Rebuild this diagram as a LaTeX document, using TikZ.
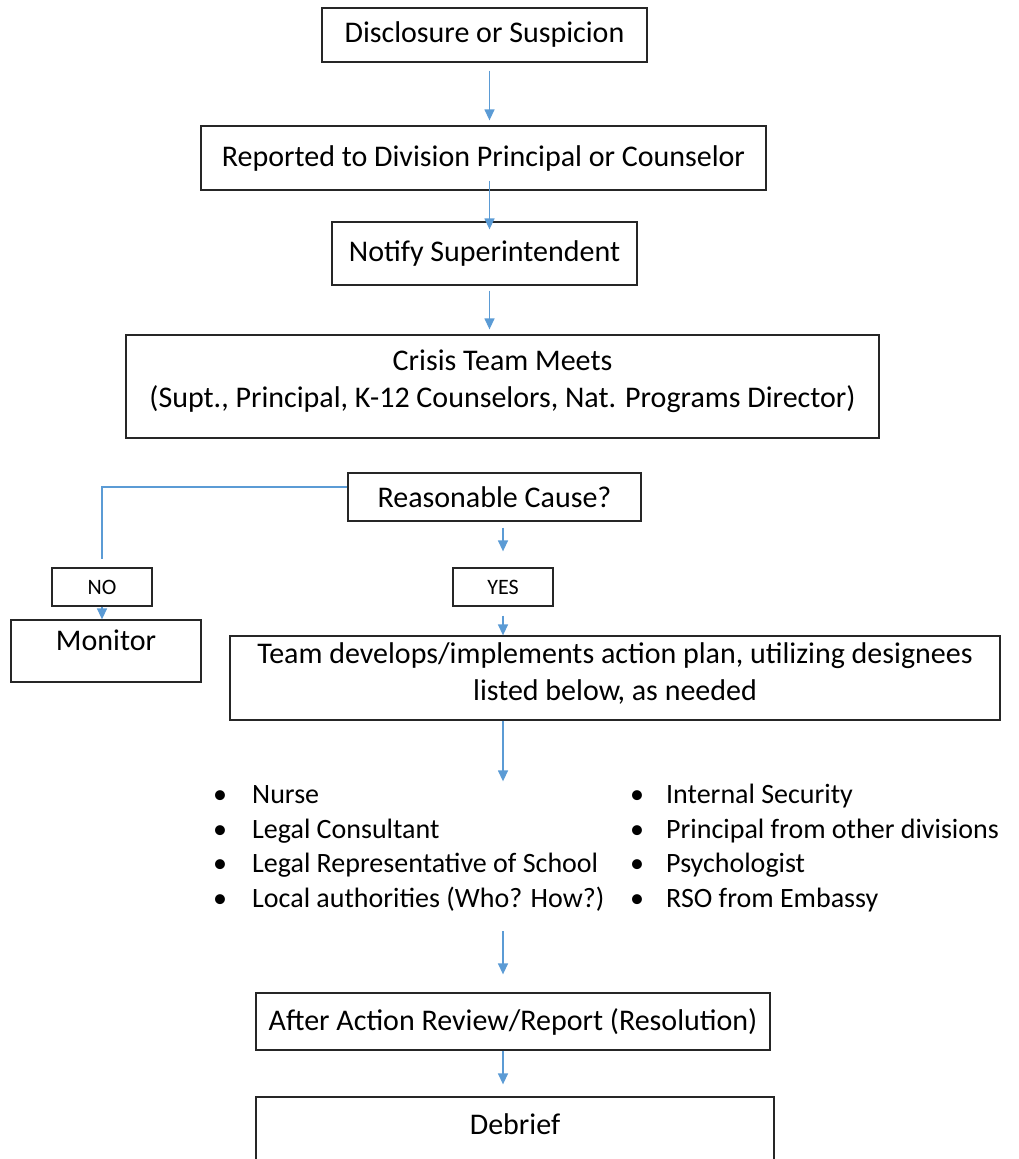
\documentclass[tikz,border=0pt]{standalone}
\usepackage{fontspec}
\setmainfont{Carlito}
\usetikzlibrary{arrows.meta}
\definecolor{flowblue}{RGB}{91,155,213}
\begin{document}
\begin{tikzpicture}[x=1pt,y=-1pt,
	box/.style={draw=black!85, line width=1.3pt, inner sep=0pt, align=center, font=\fontsize{30}{37}\selectfont},
	tag/.style={draw=black!85, line width=1.3pt, inner sep=0pt, font=\fontsize{22}{26}\selectfont},
	list/.style={inner sep=0pt, align=left, font=\fontsize{28}{34.5}\selectfont},
	flow/.style={draw=flowblue, line width=1.4pt, -{Triangle[length=11pt,width=10pt]}},
	link/.style={draw=flowblue, line width=1.4pt}]
	\useasboundingbox (0,0) rectangle (1018,1159);
	
	\node[box, minimum width=325pt, minimum height=54pt] (disclose) at (484.5,35) {Disclosure or Suspicion};
	\node[box, minimum width=565pt, minimum height=64pt] (report) at (483.5,158) {Reported to Division Principal or Counselor};
	\node[box, minimum width=305pt, minimum height=63pt] (notify) at (484.5,253.5) {Notify Superintendent};
	\node[box, minimum width=753pt, minimum height=103pt, text depth=16pt] (crisis) at (502.5,386.5) {Crisis Team Meets\\(Supt., Principal, K-12 Counselors, Nat. Programs Director)};
	\node[box, minimum width=293pt, minimum height=48pt] (cause) at (494.5,497) {Reasonable Cause?};
	\node[tag, minimum width=100pt, minimum height=38pt] (no) at (102,587) {NO};
	\node[tag, minimum width=100pt, minimum height=38pt] (yes) at (503,587) {YES};
	\node[box, minimum width=190pt, minimum height=62pt, text height=20pt, text depth=22pt] (monitor) at (106,651) {Monitor};
	\node[box, minimum width=770pt, minimum height=84pt, text depth=12pt] (plan) at (615,678) {Team develops/implements action plan, utilizing designees\\listed below, as needed};
	
	\node[list, anchor=base west] (leftlist) at (213,907) {\makebox[39pt][l]{\textbullet}Nurse\\
		\makebox[39pt][l]{\textbullet}Legal Consultant\\
		\makebox[39pt][l]{\textbullet}Legal Representative of School\\
		\makebox[39pt][l]{\textbullet}Local authorities (Who? How?)};
	\node[list, anchor=base west] (rightlist) at (630,907) {\makebox[36pt][l]{\textbullet}Internal Security\\
		\makebox[36pt][l]{\textbullet}Principal from other divisions\\
		\makebox[36pt][l]{\textbullet}Psychologist\\
		\makebox[36pt][l]{\textbullet}RSO from Embassy};
	
	\node[box, minimum width=514pt, minimum height=57pt] (review) at (513,1021.5) {After Action Review/Report (Resolution)};
	\node[box, minimum width=518pt, minimum height=76pt, text height=20pt, text depth=22pt] (debrief) at (515,1135) {Debrief};
	
	\draw[flow, shorten <=8pt, shorten >=5pt] ([xshift=5pt]disclose.south) -- ([xshift=5pt]disclose.south |- report.north);
	\draw[flow, shorten <=-10pt, shorten >=-8pt] ([xshift=6pt]report.south) -- ([xshift=6pt]report.south |- notify.north);
	\draw[flow, shorten <=5pt, shorten >=5pt] ([xshift=5pt]notify.south) -- ([xshift=5pt]notify.south |- crisis.north);
	\draw[link] ([yshift=10pt]cause.west) -| ([yshift=8pt]no.north);
	\draw[flow] (no.south) -- (no.south |- monitor.north);
	\draw[flow, shorten <=6pt, shorten >=16pt] (yes.north |- cause.south) -- (yes.north);
	\draw[flow, shorten <=9pt] (yes.south) -- (yes.south |- plan.north);
	\draw[flow, shorten >=4pt] (yes.south |- plan.south) -- (yes.south |- leftlist.north);
	\draw[flow, shorten <=20pt, shorten >=18pt] (yes.south |- leftlist.south) -- (yes.south |- review.north);
	\draw[flow, shorten >=12pt] (yes.south |- review.south) -- (yes.south |- debrief.north);
\end{tikzpicture}
\end{document}
